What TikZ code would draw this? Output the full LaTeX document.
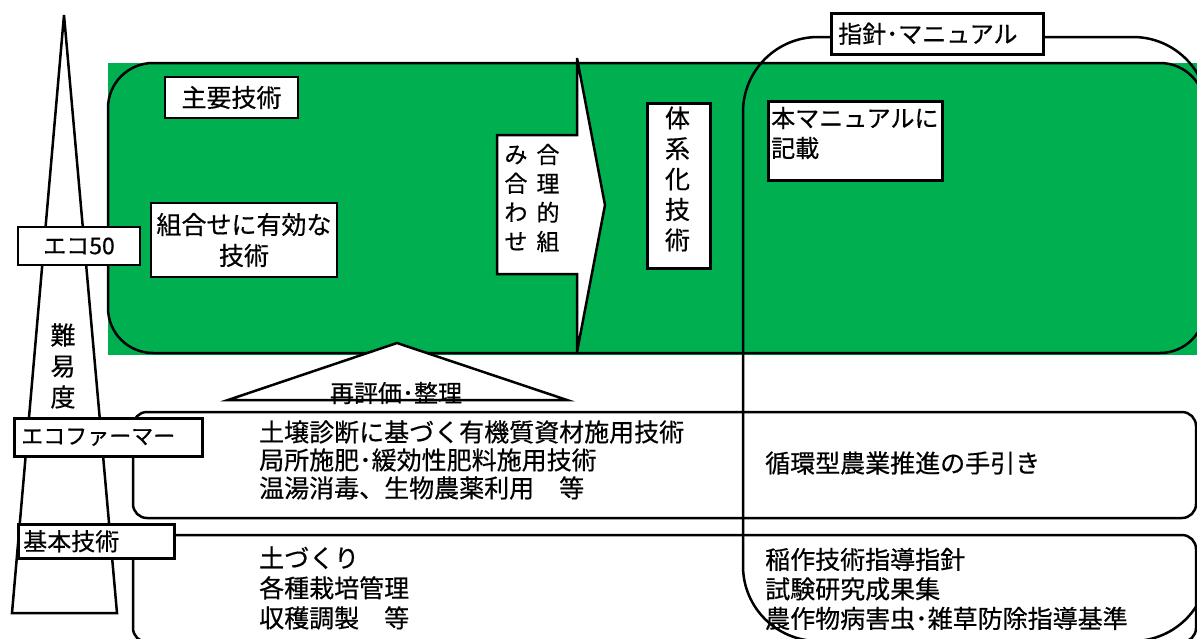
\documentclass[tikz,border=0pt]{standalone}
\usepackage{fontspec}
\setmainfont{Noto Sans CJK JP}[FakeBold=0.5]
\usetikzlibrary{calc}
\definecolor{ecogreen}{RGB}{0,176,80}
\newcommand\jsize[1]{\fontsize{#1}{#1}\selectfont}
\begin{document}
\begin{tikzpicture}[x=1pt,y=-1pt,
  frame/.style={line width=2.5pt},
  box/.style={draw, line width=2.5pt, fill=white, inner sep=0pt},
  jt/.style={inner sep=0pt},
]
\useasboundingbox (0,0) rectangle (1197,638);
\begin{scope}
\clip (0,0) rectangle (1197,638);
% green area
\fill[ecogreen] (108,63) rectangle (1197,355);
% guideline / manual frame
\draw[frame, rounded corners=75pt] (743,37) rectangle (1208,641);
% main technology frame
\draw[frame, rounded corners=45pt] (108,63) rectangle (1205,353);
% eco-farmer band and basic band
\draw[frame, rounded corners=14pt] (133,412) rectangle (1196,518);
\draw[frame, rounded corners=14pt] (133,535) rectangle (1196,642);
\end{scope}

% difficulty triangle
\coordinate (apex) at (64,15);
\coordinate (bl) at (12,613);
\coordinate (br) at (117,613);
\draw[frame, fill=white] (apex) -- (br) -- (bl) -- cycle;

% arrow
\coordinate (a1) at (497,135);
\coordinate (a2) at (577,135);
\coordinate (a3) at (577,58);
\coordinate (a4) at (605,205);
\coordinate (a5) at (577,352);
\coordinate (a6) at (577,274);
\coordinate (a7) at (497,274);
\draw[frame, fill=white] (a1) -- (a2) -- (a3) -- (a4) -- (a5) -- (a6) -- (a7) -- cycle;
\node[jt, align=center, font=\fontsize{23}{29}\selectfont] (colR) at (548,198) {合\\理\\的\\組};
\node[jt, align=center, font=\fontsize{23}{29}\selectfont] (colL) at (516,198) {み\\合\\わ\\せ};

% re-evaluation triangle
\coordinate (t1) at (397,343);
\coordinate (t2) at (567,400);
\coordinate (t3) at (228,400);
\fill[white] (t1) -- (t2) -- (t3) -- cycle;
\node[jt, font=\jsize{24}] (saihyoka) at (396,393) {再評価･整理};
\draw[frame] (t1) -- (t2) -- (t3) -- cycle;

% label boxes
\node[box, minimum width=122pt, minimum height=38pt, font=\jsize{23}] (eco50) at (79,246) {エコ50};
\node[box, anchor=north west, minimum height=38pt, text width=174pt, inner xsep=7pt, align=left, font=\jsize{22}] (ecofarmer) at (13,417) {エコファーマー};
\node[box, anchor=north west, minimum height=34pt, text width=146pt, inner xsep=5pt, align=left, font=\jsize{24}] (kihon) at (17,523) {基本技術};
\node[box, minimum width=133pt, minimum height=41pt, font=\jsize{25}] (shuyo) at (231.5,97.5) {主要技術};
\node[box, minimum width=186pt, minimum height=74pt, align=center, font=\fontsize{25}{31}\selectfont] (kumiawase) at (244,240) {組合せに有効な\\技術};
\node[box, anchor=north west, minimum width=63pt, minimum height=165pt] (taikei) at (646,102) {};
\node[jt, align=center, font=\fontsize{25}{30.5}\selectfont] (taikeitext) at (677.5,179) {体\\系\\化\\技\\術};
\node[box, anchor=north west, minimum width=174pt, minimum height=79pt] (honman) at (767,100) {};
\node[jt, anchor=west, align=left, font=\fontsize{24}{30}\selectfont] (honmantext) at (771,133) {本マニュアルに\\記載};
\node[box, anchor=north west, minimum height=41pt, text width=198pt, inner xsep=7pt, align=left, font=\jsize{24}] (shishin) at (830,12) {指針･マニュアル};

% difficulty text
\node[jt, align=center, font=\fontsize{25}{31}\selectfont] (nanido) at (63,366) {難\\易\\度};

% band texts
\node[jt, anchor=west, align=left, font=\fontsize{25}{28}\selectfont] (efL) at (259,460) {土壌診断に基づく有機質資材施用技術\\局所施肥･緩効性肥料施用技術\\温湯消毒、生物農薬利用　等};
\node[jt, anchor=west, font=\jsize{25}] (efR) at (765,463) {循環型農業推進の手引き};
\node[jt, anchor=west, align=left, font=\fontsize{25}{30}\selectfont] (khL) at (259,588) {土づくり\\各種栽培管理\\収穫調製　等};
\node[jt, anchor=west, align=left, font=\fontsize{25}{29.5}\selectfont] (khR) at (765,589) {稲作技術指導指針\\試験研究成果集\\農作物病害虫･雑草防除指導基準};
\end{tikzpicture}
\end{document}
